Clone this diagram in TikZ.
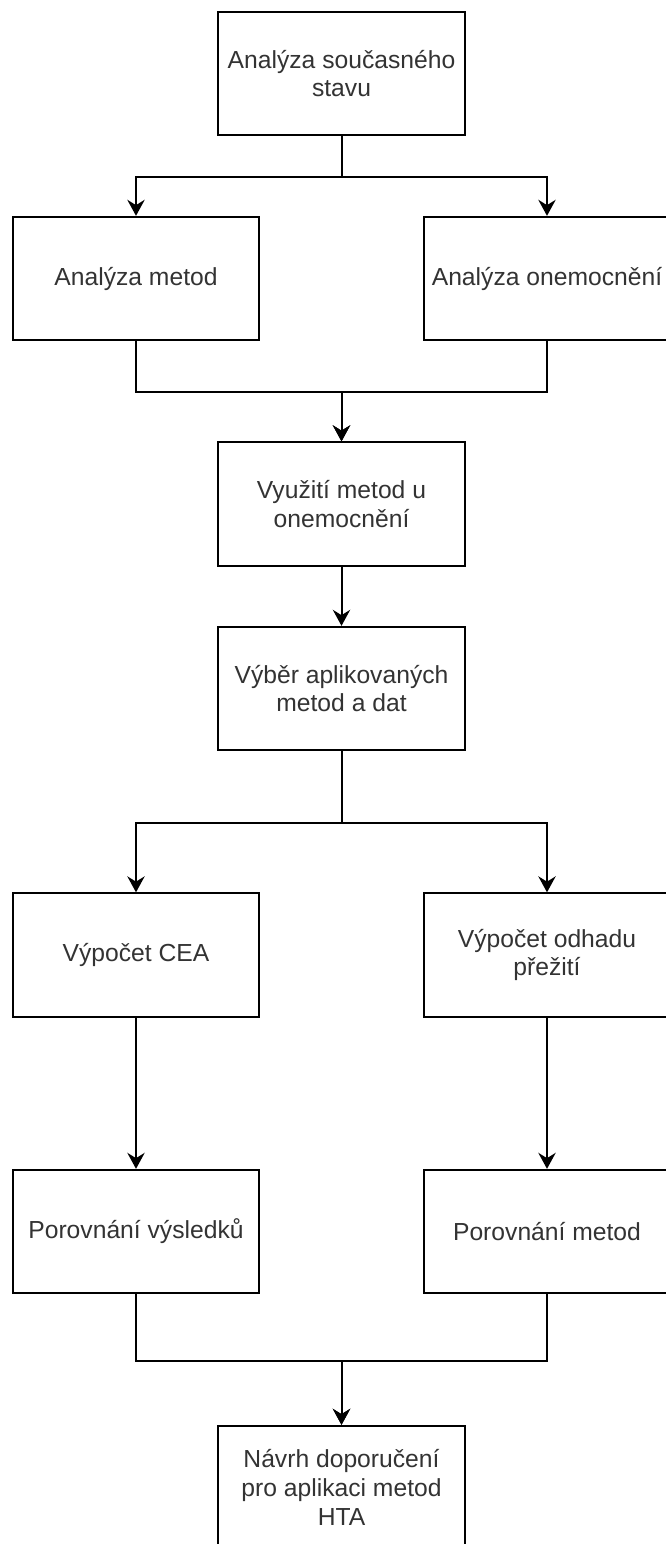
\documentclass[tikz,border=0pt]{standalone}
\usepackage{fontspec}
\setmainfont{Liberation Sans}
\usetikzlibrary{arrows.meta}
\usetikzlibrary{positioning}

\begin{document}
\begin{tikzpicture}[x=0.75pt, y=-0.75pt, line width=1.5pt,
  every node/.style={draw, rectangle, minimum width=185pt, minimum height=92.5pt, inner sep=0pt, align=center, text=black!80, font=\fontsize{18.5}{21.5}\selectfont},
  flow/.style={-{Stealth[length=12pt, width=13pt, inset=4pt]}}]
\useasboundingbox (0,0) rectangle (666,1544);
\node (Stav) at (341.5,73.5) {Analýza současného\\stavu};
\node (Metody) at (136,278.5) {Analýza metod};
\node (Nemoc) at (547,278.5) {Analýza onemocnění};
\node (Vyuziti) at (341.5,504) {Využití metod u\\onemocnění};
\node (Vyber) at (341.5,688.5) {Výběr aplikovaných\\metod a dat};
\node (CEA) at (136,955) {Výpočet CEA};
\node (Preziti) at (547,955) {Výpočet odhadu\\přežití};
\node (PorVysl) at (136,1231.5) {Porovnání výsledků};
\node (PorMetod) at (547,1231.5) {Porovnání metod};
\node (Navrh) at (341.5,1487.5) {Návrh doporučení\\pro aplikaci metod\\HTA};
\draw[flow] (Stav.south) -- ++(0,41) -| (Metody.north);
\draw[flow] (Stav.south) -- ++(0,41) -| (Nemoc.north);
\draw[flow] (Metody.south) -- ++(0,51) -| (Vyuziti.north);
\draw[flow] (Nemoc.south) -- ++(0,51) -| (Vyuziti.north);
\draw[flow] (Vyuziti) -- (Vyber);
\draw[flow] (Vyber.south) -- ++(0,71.5) -| (CEA.north);
\draw[flow] (Vyber.south) -- ++(0,71.5) -| (Preziti.north);
\draw[flow] (CEA) -- (PorVysl);
\draw[flow] (Preziti) -- (PorMetod);
\draw[flow] (PorVysl.south) -- ++(0,66.5) -| (Navrh.north);
\draw[flow] (PorMetod.south) -- ++(0,66.5) -| (Navrh.north);
\end{tikzpicture}
\end{document}
